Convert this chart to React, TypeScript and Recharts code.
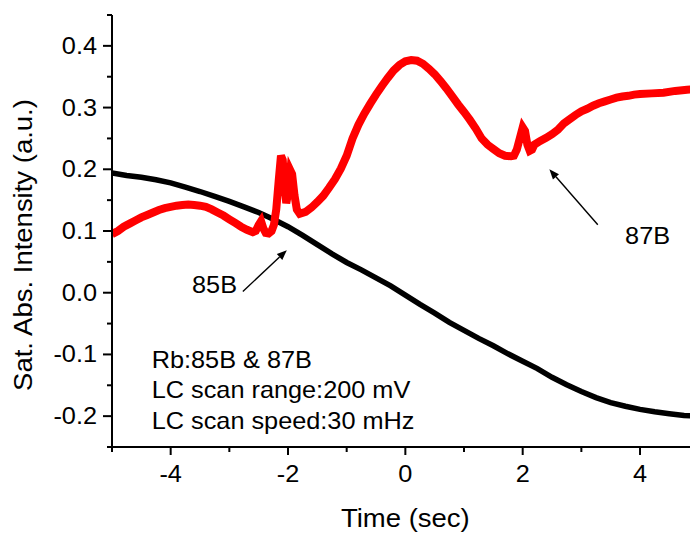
import React from "react";
import { LineChart, Line, XAxis, YAxis, ReferenceLine, ReferenceDot } from "recharts";

// Red trace (saturated absorption spectrum)
const redTime = [
  -5.0, -4.9, -4.8, -4.7, -4.6, -4.5, -4.4, -4.3, -4.2, -4.1, -4.0, -3.9, -3.8, -3.7, -3.6, -3.5, -3.4,
  -3.3, -3.2, -3.1, -3.0, -2.9, -2.8, -2.7, -2.6, -2.55, -2.5, -2.46, -2.42, -2.38, -2.33, -2.28, -2.24,
  -2.2, -2.16, -2.12, -2.09, -2.06, -2.03, -2.0, -1.96, -1.93, -1.89, -1.85, -1.8, -1.7, -1.6, -1.5,
  -1.4, -1.3, -1.2, -1.1, -1.0, -0.9, -0.8, -0.7, -0.6, -0.5, -0.4, -0.3, -0.2, -0.1, 0.0, 0.1, 0.2,
  0.3, 0.4, 0.5, 0.6, 0.7, 0.8, 0.9, 1.0, 1.1, 1.2, 1.3, 1.4, 1.5, 1.6, 1.7, 1.8, 1.85, 1.9, 1.95,
  2.0, 2.04, 2.08, 2.12, 2.16, 2.2, 2.3, 2.4, 2.5, 2.6, 2.7, 2.8, 2.9, 3.0, 3.1, 3.2, 3.3, 3.4, 3.5,
  3.6, 3.7, 3.8, 3.9, 4.0, 4.2, 4.4, 4.6, 4.8, 5.0,
];
const redValue = [
  0.095, 0.1, 0.107, 0.112, 0.117, 0.122, 0.126, 0.13, 0.134, 0.137, 0.139, 0.141, 0.142, 0.143, 0.142, 0.141, 0.139,
  0.135, 0.13, 0.125, 0.119, 0.113, 0.107, 0.102, 0.098, 0.1, 0.11, 0.116, 0.104, 0.097, 0.096, 0.1, 0.11,
  0.135, 0.18, 0.222, 0.215, 0.175, 0.145, 0.16, 0.198, 0.192, 0.158, 0.135, 0.128, 0.131, 0.138, 0.147,
  0.157, 0.17, 0.184, 0.201, 0.222, 0.25, 0.272, 0.29, 0.306, 0.321, 0.335, 0.348, 0.36, 0.369, 0.375, 0.377, 0.376,
  0.371, 0.363, 0.354, 0.343, 0.331, 0.318, 0.305, 0.293, 0.28, 0.266, 0.25, 0.24, 0.233, 0.226, 0.222, 0.221, 0.222, 0.232, 0.25,
  0.268, 0.262, 0.24, 0.23, 0.232, 0.24, 0.246, 0.251, 0.257, 0.264, 0.274, 0.281, 0.288, 0.294, 0.298, 0.303, 0.307, 0.31, 0.313,
  0.316, 0.318, 0.319, 0.321, 0.322, 0.323, 0.324, 0.327, 0.329, 0.33,
];

// Black trace (laser scan ramp)
const blackTime = [
  -5, -4.75, -4.5, -4.25, -4, -3.75, -3.5, -3.25, -3, -2.75, -2.5, -2.25, -2, -1.75, -1.5, -1.25, -1,
  -0.75, -0.5, -0.25, 0, 0.25, 0.5, 0.75, 1, 1.25, 1.5, 1.75, 2, 2.25, 2.5, 2.75, 3, 3.25, 3.5, 3.75,
  4, 4.25, 4.5, 4.75, 5,
];
const blackValue = [
  0.194, 0.19, 0.187, 0.183, 0.178, 0.171, 0.164, 0.156, 0.148, 0.139, 0.13, 0.119, 0.107, 0.093, 0.078, 0.063, 0.049,
  0.037, 0.024, 0.011, -0.004, -0.019, -0.033, -0.048, -0.061, -0.074, -0.086, -0.099, -0.111, -0.123, -0.137, -0.149, -0.16, -0.17, -0.178, -0.184,
  -0.189, -0.193, -0.196, -0.199, -0.2,
];

const xTicks = [-5, -4, -3, -2, -1, 0, 1, 2, 3, 4, 5];
const yTicks = [-0.25, -0.2, -0.15, -0.1, -0.05, 0, 0.05, 0.1, 0.15, 0.2, 0.25, 0.3, 0.35, 0.4, 0.45];

const xTitle = "Time (sec)";
const yTitle = "Sat. Abs. Intensity (a.u.)";

// annotations (data coordinates)
const peakLabels = ["85B", "87B"];
const peakLabelPos = [
  { t: -3.636, v: 0.0 },
  { t: 3.745, v: 0.079 },
];
const arrows = [
  [{ t: -2.77, v: 0.002 }, { t: -2.02, v: 0.069 }],
  [{ t: 3.28, v: 0.11 }, { t: 2.455, v: 0.2 }],
];
const noteLines = ["Rb:85B & 87B", "LC scan range:200 mV", "LC scan speed:30 mHz"];
const noteT = -4.323;
const noteV = [-0.122, -0.171, -0.221];

const redData = redTime.map((t, i) => ({ t, v: redValue[i] }));
const blackData = blackTime.map((t, i) => ({ t, v: blackValue[i] }));

const FONT = "'Liberation Sans', Arial, Helvetica, sans-serif";
const FS = 23;
const SX = 1.1;

const isMajorX = (v: number) => Math.abs(v / 2 - Math.round(v / 2)) < 1e-6;
const isMajorY = (v: number) => Math.abs(v * 10 - Math.round(v * 10)) < 1e-6;

const XTick = (props: any) => {
  const { x, y, payload } = props;
  const v = payload.value as number;
  const major = isMajorX(v);
  return (
    <g>
      <line x1={x} y1={y} x2={x} y2={y + (major ? 8 : 5)} stroke="#000" strokeWidth={2} />
      {major && (
        <text
          transform={`translate(${x},${y + 35}) scale(${SX},1)`}
          textAnchor="middle"
          fontSize={FS}
          fontFamily={FONT}
          fill="#000"
        >
          {String(v)}
        </text>
      )}
    </g>
  );
};

const YTick = (props: any) => {
  const { x, y, payload } = props;
  const v = payload.value as number;
  const major = isMajorY(v);
  const label = Math.abs(v) < 1e-9 ? "0.0" : v.toFixed(1);
  return (
    <g>
      <line x1={x} y1={y} x2={x - (major ? 9 : 5)} y2={y} stroke="#000" strokeWidth={2} />
      {major && (
        <text
          transform={`translate(${x - 15},${y + 8}) scale(${SX},1)`}
          textAnchor="end"
          fontSize={FS}
          fontFamily={FONT}
          fill="#000"
        >
          {label}
        </text>
      )}
    </g>
  );
};

const arrowShape = (props: any) => {
  const { x1, y1, x2, y2 } = props;
  const dx = x2 - x1;
  const dy = y2 - y1;
  const len = Math.sqrt(dx * dx + dy * dy) || 1;
  const ux = dx / len;
  const uy = dy / len;
  const L = 10;
  const Wd = 4;
  const bx = x2 - ux * L;
  const by = y2 - uy * L;
  const nx = -uy;
  const ny = ux;
  return (
    <g>
      <line x1={x1} y1={y1} x2={bx} y2={by} stroke="#000" strokeWidth={1.4} />
      <polygon
        points={`${x2},${y2} ${bx + nx * Wd},${by + ny * Wd} ${bx - nx * Wd},${by - ny * Wd}`}
        fill="#000"
      />
    </g>
  );
};

const textShape = (txt: string) => (props: any) => {
  const { cx, cy } = props;
  return (
    <text
      transform={`translate(${cx},${cy}) scale(${SX},1)`}
      textAnchor="start"
      fontSize={FS}
      fontFamily={FONT}
      fill="#000"
    >
      {txt}
    </text>
  );
};

const xLabel = (props: any) => {
  const vb = props.viewBox || { x: 112, y: 447, width: 586.7 };
  const cx = vb.x + vb.width / 2;
  return (
    <text
      transform={`translate(${cx},${vb.y + 80}) scale(${SX},1)`}
      textAnchor="middle"
      fontSize={25}
      fontFamily={FONT}
      fill="#000"
    >
      {xTitle}
    </text>
  );
};

const yLabel = (props: any) => {
  const vb = props.viewBox || { x: 112, y: 15, height: 432 };
  return (
    <text
      transform={`translate(32,${vb.y + 230}) rotate(-90) scale(${SX},1)`}
      textAnchor="middle"
      fontSize={25}
      fontFamily={FONT}
      fill="#000"
    >
      {yTitle}
    </text>
  );
};

export default function App() {
  return (
    <div
      style={{
        position: "absolute",
        left: 0,
        top: 0,
        width: 690,
        height: 534,
        overflow: "hidden",
        background: "#fff",
      }}
    >
      <LineChart width={700} height={534} margin={{ top: 15, right: 1.3, bottom: 86, left: 111 }}>
        <XAxis
          dataKey="t"
          type="number"
          domain={[-5, 5]}
          ticks={xTicks}
          interval={0}
          allowDataOverflow
          height={1}
          tickSize={0}
          tickMargin={0}
          tickLine={false}
          axisLine={{ stroke: "#000", strokeWidth: 2 }}
          tick={(p: any) => <XTick {...p} />}
          label={xLabel}
        />
        <YAxis
          dataKey="v"
          type="number"
          domain={[-0.25, 0.45]}
          ticks={yTicks}
          interval={0}
          allowDataOverflow
          width={1}
          tickSize={0}
          tickMargin={0}
          tickLine={false}
          axisLine={{ stroke: "#000", strokeWidth: 2 }}
          tick={(p: any) => <YTick {...p} />}
          label={yLabel}
        />
        <Line
          data={blackData}
          dataKey="v"
          type="linear"
          stroke="#000000"
          strokeWidth={5.5}
          dot={false}
          isAnimationActive={false}
        />
        <Line
          data={redData}
          dataKey="v"
          type="linear"
          stroke="#ff0000"
          strokeWidth={8}
          dot={false}
          isAnimationActive={false}
        />
        {arrows.map((seg, i) => (
          <ReferenceLine
            key={`a${i}`}
            segment={[
              { x: seg[0].t, y: seg[0].v },
              { x: seg[1].t, y: seg[1].v },
            ]}
            shape={arrowShape}
          />
        ))}
        {peakLabels.map((s, i) => (
          <ReferenceDot key={`p${i}`} x={peakLabelPos[i].t} y={peakLabelPos[i].v} r={0} shape={textShape(s)} />
        ))}
        {noteLines.map((s, i) => (
          <ReferenceDot key={`n${i}`} x={noteT} y={noteV[i]} r={0} shape={textShape(s)} />
        ))}
      </LineChart>
    </div>
  );
}
